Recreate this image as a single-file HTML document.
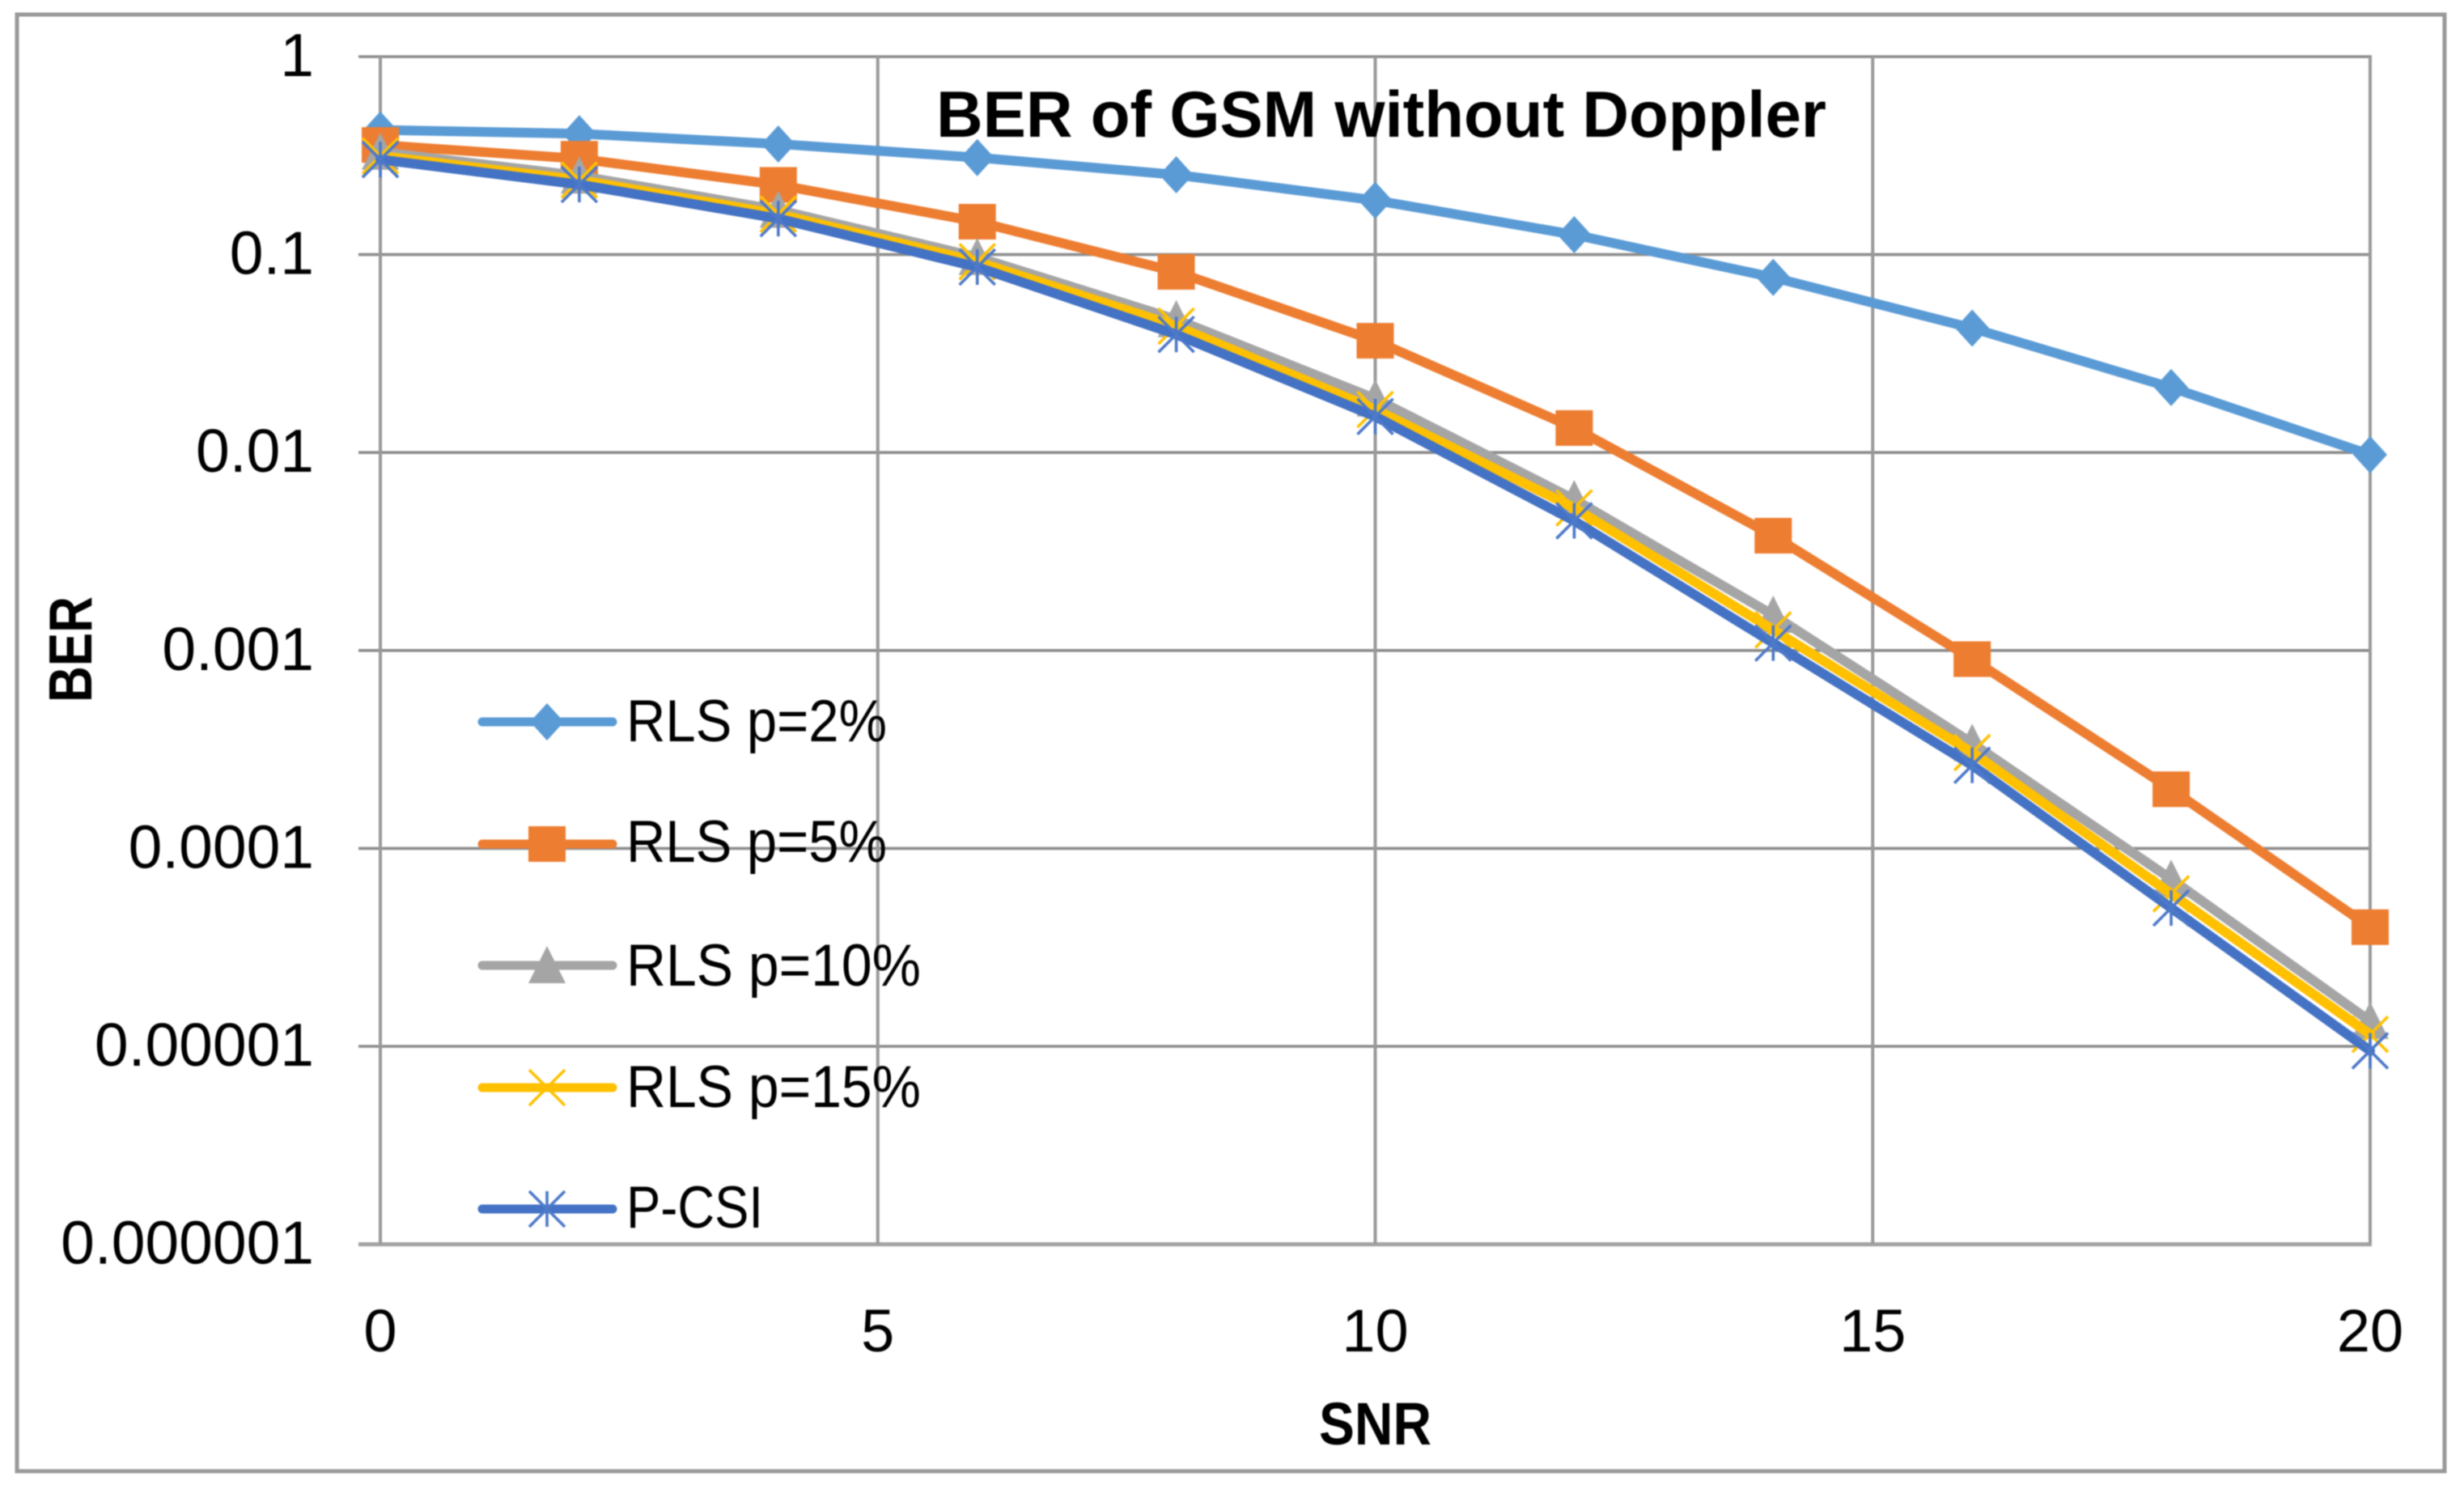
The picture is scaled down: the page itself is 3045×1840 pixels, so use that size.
<!DOCTYPE html>
<html lang="en">
<head>
<meta charset="utf-8">
<title>BER of GSM without Doppler</title>
<style>
html,body{margin:0;padding:0;background:#fff;width:3045px;height:1840px;overflow:hidden}
svg{display:block;filter:blur(0.7px)}
text{font-family:"Liberation Sans",sans-serif;fill:#000}
</style>
</head>
<body>
<svg id="chart" xmlns="http://www.w3.org/2000/svg" width="3045" height="1840" viewBox="0 0 3045 1840">
  <rect x="0" y="0" width="3045" height="1840" fill="#fff"/>
  <rect x="21" y="18" width="3000" height="1800" fill="#fff" stroke="#999" stroke-width="5"/>
  <g id="grid"></g>
  <g id="yticks" font-size="75" text-anchor="end"></g>
  <g id="xticks" font-size="74" text-anchor="middle"></g>
  <g id="series"></g>
  <text x="1157" y="169" font-size="81" font-weight="700" textLength="1100" lengthAdjust="spacingAndGlyphs">BER of GSM without Doppler</text>
  <text x="1630" y="1785" font-size="74" font-weight="700" textLength="139" lengthAdjust="spacingAndGlyphs">SNR</text>
  <text transform="translate(113 868) rotate(-90)" font-size="75" font-weight="700" textLength="131" lengthAdjust="spacingAndGlyphs">BER</text>
  <g id="legend"></g>
</svg>
<script>
const snr = [0, 2, 4, 6, 8, 10, 12, 14, 16, 18, 20];
const rls2 = [0.426, 0.408, 0.362, 0.309, 0.253, 0.188, 0.126, 0.0767, 0.0425, 0.0213, 0.00975];
const rls5 = [0.358, 0.305, 0.225, 0.1466, 0.0818, 0.0367, 0.0133, 0.0038, 0.000904, 0.000199, 0.00004];
const rls10 = [0.33, 0.25, 0.168, 0.097, 0.047, 0.0187, 0.0058, 0.00151, 0.00034, 0.00007, 0.0000134];
const rls15 = [0.315, 0.238, 0.16, 0.092, 0.0435, 0.0165, 0.00525, 0.00127, 0.000305, 0.000059, 0.0000115];
const pcsi = [0.302, 0.226, 0.152, 0.0865, 0.0395, 0.0152, 0.00452, 0.00109, 0.000263, 0.00005, 0.0000095];
const yTickValues = [1, 0.1, 0.01, 0.001, 0.0001, 0.00001, 0.000001];
const yTickLabels = ["1", "0.1", "0.01", "0.001", "0.0001", "0.00001", "0.000001"];
const xTickValues = [0, 5, 10, 15, 20];
const seriesNames = ["RLS p=2%", "RLS p=5%", "RLS p=10%", "RLS p=15%", "P-CSI"];
const seriesValues = [rls2, rls5, rls10, rls15, pcsi];

const NS = "http://www.w3.org/2000/svg";
const seriesColors = ["#5b9bd5", "#ed7d31", "#a5a5a5", "#ffc000", "#4472c4"];
const markerKinds = ["diamond", "square", "triangle", "cross", "star"];
const markerStrokes = ["#5b9bd5", "#ed7d31", "#a5a5a5", "#ffc000", "#4d79c9"];
const legendSlugs = ["rls-2", "rls-5", "rls-10", "rls-15", "p-csi"];
const legendLineY = [892, 1043, 1193, 1344, 1494];
const legendTextY = [916, 1065, 1218, 1368, 1517];
const legendTextW = [322, 322, 364, 364, 169];

function xScale(v) { return 470 + (v - 0) * (2929 - 470) / 20; }
function yScale(v) { return 70 - Math.log10(v) * 244.6; }

function make(tag, attrs, parent) {
  const el = document.createElementNS(NS, tag);
  for (const k in attrs) el.setAttribute(k, attrs[k]);
  parent.appendChild(el);
  return el;
}

function drawMarker(kind, cx, cy, color, stroke, parent) {
  const g = make("g", {}, parent);
  
  
  if (kind === "diamond") {
    make("polygon", { points: `${cx},${cy - 23} ${cx + 21},${cy} ${cx},${cy + 23} ${cx - 21},${cy}`, fill: color }, g);
  } else if (kind === "square") {
    make("rect", { x: cx - 23, y: cy - 22, width: 46, height: 44, fill: color }, g);
  } else if (kind === "triangle") {
    make("polygon", { points: `${cx},${cy - 24} ${cx + 23},${cy + 22} ${cx - 23},${cy + 22}`, fill: color }, g);
  } else {
    const s = { stroke: stroke, "stroke-width": 3.6, fill: "none" };
    make("line", Object.assign({ x1: cx - 22, y1: cy - 22, x2: cx + 22, y2: cy + 22 }, s), g);
    make("line", Object.assign({ x1: cx - 22, y1: cy + 22, x2: cx + 22, y2: cy - 22 }, s), g);
    if (kind === "star") {
      make("line", Object.assign({ x1: cx, y1: cy - 22, x2: cx, y2: cy + 22 }, s), g);
    }
  }
}

const gridG = document.getElementById("grid");
yTickValues.forEach(function (v, i) {
  const last = i === yTickValues.length - 1;
  const line = make("line", { x1: 443, x2: 2931, y1: yScale(v), y2: yScale(v), stroke: last ? "#a3a3a3" : "#8c8c8c", "stroke-width": last ? 5 : 3.6 }, gridG);
  
  
});
xTickValues.forEach(function (v) {
  const line = make("line", { x1: xScale(v), x2: xScale(v), y1: yScale(1), y2: yScale(0.000001), stroke: "#999", "stroke-width": 4 }, gridG);
  
  
});

const yG = document.getElementById("yticks");
yTickValues.forEach(function (v, i) {
  const t = make("text", { x: 388, y: yScale(v) + 24 }, yG);
  
  
  t.textContent = yTickLabels[i];
});
const xG = document.getElementById("xticks");
xTickValues.forEach(function (v) {
  const t = make("text", { x: xScale(v), y: 1670 }, xG);
  
  
  t.textContent = String(v);
});

const sG = document.getElementById("series");
seriesValues.forEach(function (vals, i) {
  const g = make("g", {}, sG);
  
  
  const pts = vals.map(function (v, j) { return xScale(snr[j]) + "," + yScale(v); }).join(" ");
  const line = make("polyline", { points: pts, fill: "none", stroke: seriesColors[i], "stroke-width": 12, "stroke-linejoin": "round", "stroke-linecap": "round" }, g);
  
  
  vals.forEach(function (v, j) {
    drawMarker(markerKinds[i], xScale(snr[j]), yScale(v), seriesColors[i], markerStrokes[i], g);
  });
});

const lG = document.getElementById("legend");
seriesNames.forEach(function (name, i) {
  const g = make("g", {}, lG);
  
  
  const ln = make("line", { x1: 596, x2: 757, y1: legendLineY[i], y2: legendLineY[i], stroke: seriesColors[i], "stroke-width": 11, "stroke-linecap": "round" }, g);
  
  
  drawMarker(markerKinds[i], 676, legendLineY[i], seriesColors[i], markerStrokes[i], g);
  const t = make("text", { x: 774, y: legendTextY[i], "font-size": 73, textLength: legendTextW[i], lengthAdjust: "spacingAndGlyphs" }, g);
  
  
  t.textContent = name;
});
</script>
</body>
</html>
